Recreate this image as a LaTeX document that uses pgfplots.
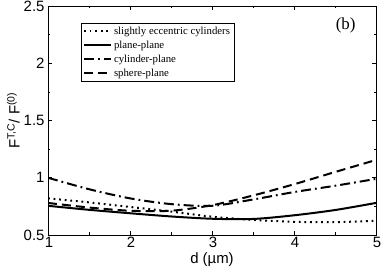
\documentclass[border=0pt]{standalone}
\usepackage{fontspec}
\setmainfont{Liberation Sans}
\newfontfamily\serif{Liberation Serif}
\usepackage{pgfplots}
\pgfplotsset{compat=1.18}
\begin{document}
\begin{tikzpicture}
\begin{axis}[
  scale only axis,
  width=328bp, height=229bp,
  xmin=1, xmax=5, ymin=0.5, ymax=2.5,
  xtick={1,2,3,4,5}, ytick={0.5,1,1.5,2,2.5},
  minor x tick num=1, minor y tick num=1,
  tick align=inside,
  major tick length=4bp, minor tick length=2.5bp,
  tick style={black, line width=0.5bp},
  axis line style={line width=0.8bp},
  /pgf/number format/assume math mode=true,
  ticklabel style={font=\fontsize{15}{17}\selectfont},
  yticklabel style={/pgf/number format/fixed,/pgf/number format/precision=1, xshift=0bp},
  xticklabel style={yshift=1bp, xshift=1bp},
  xlabel={d (µm)},
  ylabel={F\textsuperscript{T,C}/ F\textsuperscript{(0)}},
  label style={font=\fontsize{15}{17}\selectfont},
  xlabel style={yshift=2bp},
  ylabel style={yshift=-3bp},
  legend style={at={(axis cs:1.4,2.355)}, anchor=north west, draw=black, line width=0.5bp,
    font=\serif\fontsize{10.8}{13}\selectfont, inner sep=2bp, row sep=1bp,
    legend cell align=left},
  legend image code/.code={\draw[#1, line width=2bp] (0cm,0cm) -- (27bp,0cm);},
]
\addplot[black, line width=2bp, dash pattern=on 1.8bp off 3.8bp, smooth] coordinates {
 (1,0.82) (1.5,0.785) (2,0.745) (2.5,0.705) (3,0.66) (3.5,0.632) (4,0.615) (4.5,0.612) (5,0.625)};
\addlegendentry{slightly eccentric cylinders}
\addplot[black, line width=2bp, smooth] coordinates {
 (1,0.755) (1.5,0.72) (2,0.69) (2.5,0.662) (3,0.642) (3.5,0.64) (4,0.672) (4.5,0.718) (5,0.78)};
\addlegendentry{plane-plane}
\addplot[black, line width=2bp, dash pattern=on 10bp off 4bp on 1.8bp off 4bp, smooth] coordinates {
 (1,1.0) (1.5,0.9) (2,0.82) (2.5,0.77) (3,0.755) (3.5,0.81) (4,0.875) (4.5,0.93) (5,0.99)};
\addlegendentry{cylinder-plane}
\addplot[black, line width=2bp, dash pattern=on 9bp off 5bp, smooth] coordinates {
 (1,0.78) (1.5,0.74) (2,0.712) (2.5,0.712) (3,0.76) (3.5,0.845) (4,0.943) (4.5,1.05) (5,1.155)};
\addlegendentry{sphere-plane}
\node[font=\serif\fontsize{17}{19}\selectfont] at (axis cs:4.63,2.33) {(b)};
\end{axis}
\pgfresetboundingbox
\path ([xshift=-48bp,yshift=-37bp]current axis.south west) rectangle ([xshift=6bp,yshift=6bp]current axis.north east);
\end{tikzpicture}
\end{document}
